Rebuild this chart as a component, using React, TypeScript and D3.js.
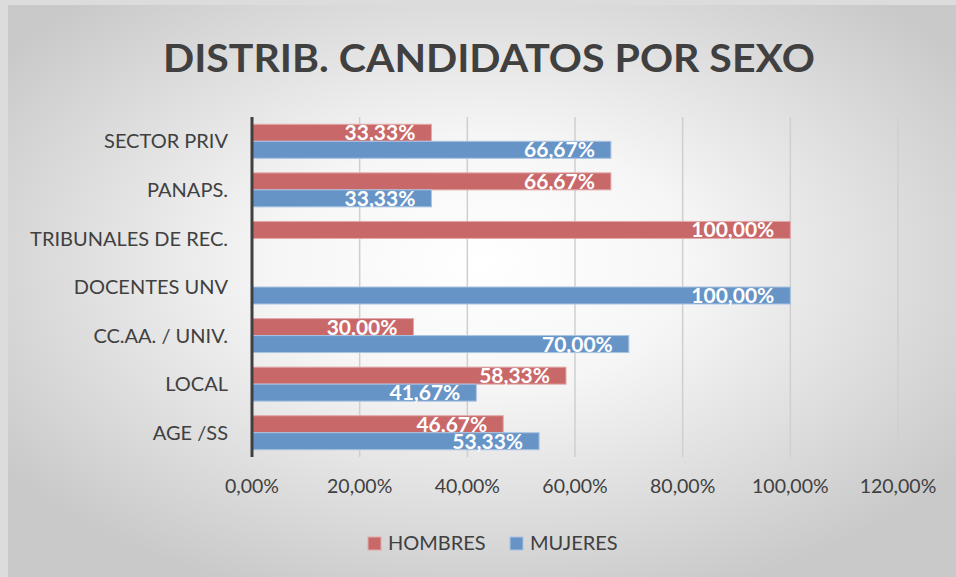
import React from 'react';
import * as d3 from 'd3';

// Data
const categories = ['SECTOR PRIV', 'PANAPS.', 'TRIBUNALES DE REC.', 'DOCENTES UNV', 'CC.AA. / UNIV.', 'LOCAL', 'AGE /SS'];
const seriesNames = ['HOMBRES', 'MUJERES'];
const hombres = [0.3333, 0.6667, 1.0, 0, 0.3, 0.5833, 0.4667];
const mujeres = [0.6667, 0.3333, 0, 1.0, 0.7, 0.4167, 0.5333];
const xTicks = [0, 0.2, 0.4, 0.6, 0.8, 1.0, 1.2];
const title = 'DISTRIB. CANDIDATOS POR SEXO';

const W = 956;
const H = 577;
const FONT = 'Lato, "Open Sans", sans-serif';
const TEXT = '#404040';
const colors: Record<string, string> = { HOMBRES: '#c96869', MUJERES: '#6794c7' };
const strokes: Record<string, string> = { HOMBRES: '#e2a9a9', MUJERES: '#a9c3e2' };

const pct = (v: number) => (v * 100).toFixed(2).replace('.', ',') + '%';

export default function App() {
  const x = d3.scaleLinear().domain([0, 1.2]).range([252, 898]);
  const y = d3.scaleBand<string>()
    .domain(categories)
    .range([117, 457])
    .paddingInner(0.3)
    .paddingOuter(0.15);
  const ySub = d3.scaleBand<string>().domain(seriesNames).range([0, y.bandwidth()]);

  const rows = categories.map((c, i) => ({ cat: c, HOMBRES: hombres[i], MUJERES: mujeres[i] }));

  return (
    <svg width={W} height={H} style={{ position: 'absolute', left: 0, top: 0 }} fontFamily={FONT}>
      <defs>
        <radialGradient id="bg" cx="50%" cy="45%" r="62%">
          <stop offset="0" stopColor="#ffffff" />
          <stop offset="0.35" stopColor="#f6f6f6" />
          <stop offset="1" stopColor="#c9c9c9" />
        </radialGradient>
      </defs>
      <rect x={0} y={0} width={W} height={H} fill="#dcdcdc" />
      <rect x={8} y={5} width={W - 8} height={H - 5} fill="url(#bg)" />

      {/* title */}
      <text x={489} y={72} textAnchor="middle" fontSize={38} fontWeight="bold" fill={TEXT}
        textLength={652} lengthAdjust="spacingAndGlyphs">{title}</text>

      {/* gridlines */}
      {xTicks.slice(1).map(t => (
        <line key={t} x1={x(t)} x2={x(t)} y1={117} y2={457} stroke="#cfcfcf" strokeWidth={1.5} />
      ))}

      {/* bars */}
      {rows.map(r => (
        <g key={r.cat} transform={`translate(0,${y(r.cat)})`}>
          {seriesNames.map(s => {
            const v = (r as any)[s] as number;
            if (!v) return null;
            const by = ySub(s)!;
            const bh = ySub.bandwidth();
            return (
              <g key={s}>
                <rect x={x(0)} y={by} width={x(v) - x(0)} height={bh}
                  fill={colors[s]} stroke={strokes[s]} strokeWidth={1} />
                <text x={x(v) - 16} y={by + bh - 1} textAnchor="end" fontSize={21}
                  fontWeight="bold" fill="#ffffff">{pct(v)}</text>
              </g>
            );
          })}
        </g>
      ))}

      {/* y axis line */}
      <line x1={x(0)} x2={x(0)} y1={117} y2={457} stroke="#404040" strokeWidth={3} />

      {/* category labels */}
      {categories.map(c => (
        <text key={c} x={228} y={y(c)! + y.bandwidth() / 2} dy="0.36em" textAnchor="end"
          fontSize={20} fill={TEXT}>{c}</text>
      ))}

      {/* x tick labels */}
      {xTicks.map(t => (
        <text key={t} x={x(t)} y={493} textAnchor="middle" fontSize={19.5} fill={TEXT}>{pct(t)}</text>
      ))}

      {/* legend */}
      {seriesNames.map((s, i) => {
        const lx = [368, 510][i];
        return (
          <g key={s}>
            <rect x={lx} y={537} width={13} height={13} fill={colors[s]} stroke={strokes[s]} strokeWidth={1} />
            <text x={lx + 20} y={550} fontSize={20} fill={TEXT}>{s}</text>
          </g>
        );
      })}
    </svg>
  );
}
